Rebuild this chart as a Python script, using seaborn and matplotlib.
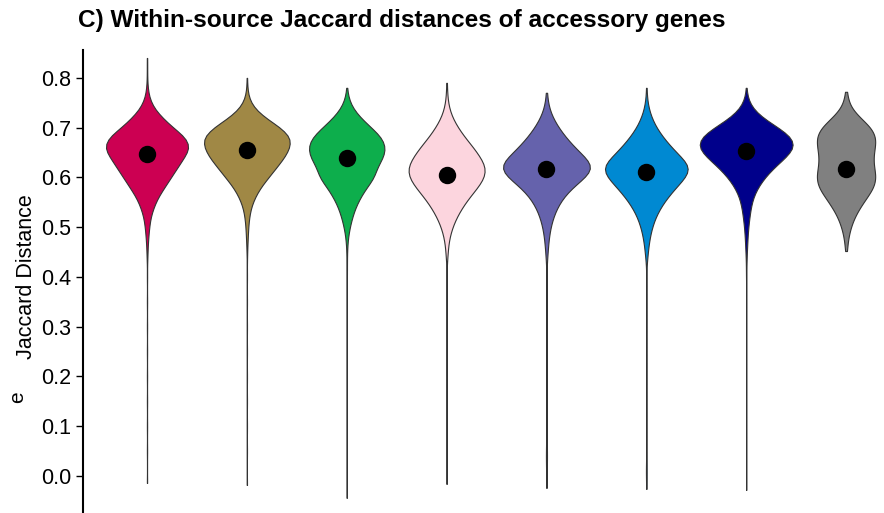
import numpy as np
import pandas as pd
import matplotlib
matplotlib.use("Agg")
import matplotlib.pyplot as plt
import seaborn as sns

sources = ["S1", "S2", "S3", "S4", "S5", "S6", "S7", "S8"]
colors = ["#CC0052", "#A08845", "#0DAE4C", "#FCD5DE",
          "#6562AC", "#0089D2", "#00008B", "#808080"]

# binned core of each distribution (bin centres) and counts
bins = [0.44, 0.46, 0.48, 0.50, 0.52, 0.54, 0.56, 0.58, 0.60, 0.62,
        0.64, 0.66, 0.68, 0.70, 0.72, 0.74, 0.76, 0.78, 0.80]
counts = {
    "S1": [2, 3, 6, 10, 16, 30, 50, 80, 110, 140, 170, 200, 180, 120, 70, 30, 10, 3, 1],
    "S2": [1, 2, 4, 6, 10, 18, 35, 60, 95, 130, 165, 190, 195, 150, 80, 30, 8, 2, 1],
    "S3": [1, 2, 5, 12, 22, 35, 55, 80, 115, 120, 150, 160, 145, 100, 55, 22, 6, 1, 0],
    "S4": [3, 5, 10, 20, 35, 55, 80, 110, 135, 140, 120, 95, 65, 40, 20, 8, 3, 1, 0],
    "S5": [3, 5, 8, 13, 22, 35, 55, 85, 130, 175, 130, 95, 65, 40, 20, 7, 2, 0, 0],
    "S6": [4, 7, 12, 20, 32, 50, 75, 105, 140, 165, 125, 90, 60, 35, 18, 7, 2, 1, 0],
    "S7": [2, 4, 6, 9, 14, 20, 30, 50, 80, 120, 170, 210, 200, 140, 70, 25, 6, 1, 0],
    "S8": [0, 2, 5, 10, 18, 30, 45, 60, 65, 60, 58, 62, 65, 55, 30, 10, 3, 0, 0],
}
# sparse tail values outside the core
tails = {
    "S1": [-0.014, 0.05, 0.10, 0.15, 0.20, 0.25, 0.30, 0.35, 0.40, 0.82, 0.84],
    "S2": [-0.018, 0.05, 0.10, 0.15, 0.20, 0.25, 0.30, 0.35, 0.40],
    "S3": [-0.044, 0.0, 0.05, 0.10, 0.15, 0.20, 0.25, 0.30, 0.35, 0.40, 0.42],
    "S4": [-0.016, 0.05, 0.10, 0.15, 0.20, 0.25, 0.30, 0.35, 0.40, 0.79],
    "S5": [-0.024, 0.0, 0.02, 0.03, 0.04, 0.05, 0.06, 0.08, 0.12, 0.16,
           0.20, 0.22, 0.23, 0.25, 0.30, 0.35, 0.40, 0.77],
    "S6": [-0.026, 0.0, 0.01, 0.02, 0.05, 0.10, 0.15, 0.20, 0.25, 0.30, 0.35, 0.40],
    "S7": [-0.028, 0.05, 0.10, 0.15, 0.20, 0.25, 0.30, 0.35, 0.40, 0.42],
    "S8": [0.452, 0.772],
}
medians = [0.647, 0.655, 0.639, 0.605, 0.616, 0.611, 0.653, 0.616]

rows = []
for s in sources:
    vals = list(np.repeat(bins, counts[s])) + tails[s]
    rows += [(s, v) for v in vals]
df = pd.DataFrame(rows, columns=["source", "distance"])

sns.set_style("ticks", {"axes.edgecolor": "black", "text.color": "black",
                        "axes.labelcolor": "black", "ytick.color": "black"})
plt.rcParams["font.family"] = ["Liberation Sans", "DejaVu Sans"]

fig = plt.figure(figsize=(8.84, 5.13), dpi=100)
ax = fig.add_axes([83 / 884, 0.0, 801 / 884, 463 / 513])

sns.violinplot(data=df, x="source", y="distance", hue="source", order=sources,
               hue_order=sources, palette=colors, saturation=1, inner=None, cut=0,
               density_norm="area", common_norm=True, width=0.93, bw_adjust=0.85,
               linewidth=0.8, linecolor="#333333", legend=False, ax=ax)
sns.pointplot(x=sources, y=medians, order=sources, color="black",
              linestyle="none", markers="o", markersize=10.5, errorbar=None, ax=ax)

ax.set_xlim(-0.641, 7.38)
ax.set_ylim(-0.0744, 0.856)
ax.set_yticks([0.0, 0.1, 0.2, 0.3, 0.4, 0.5, 0.6, 0.7, 0.8])
ax.set_xticks([])
ax.set_xlabel("")
ax.set_ylabel("Jaccard Distance", fontsize=15.5)
ax.yaxis.set_label_coords(-0.057, 0.511)
ax.tick_params(axis="y", labelsize=15.5, length=5, width=1)
sns.despine(ax=ax, bottom=True)
ax.spines["left"].set_linewidth(1.5)

fig.text(78 / 884, 1 - 21 / 513, "C) Within-source Jaccard distances of accessory genes",
         fontsize=17.6, fontweight="bold", va="center", ha="left")
fig.text(18 / 884, 1 - 397 / 513, "e", fontsize=15, rotation=90, va="center", ha="center")

fig.savefig("out.png", dpi=100)
